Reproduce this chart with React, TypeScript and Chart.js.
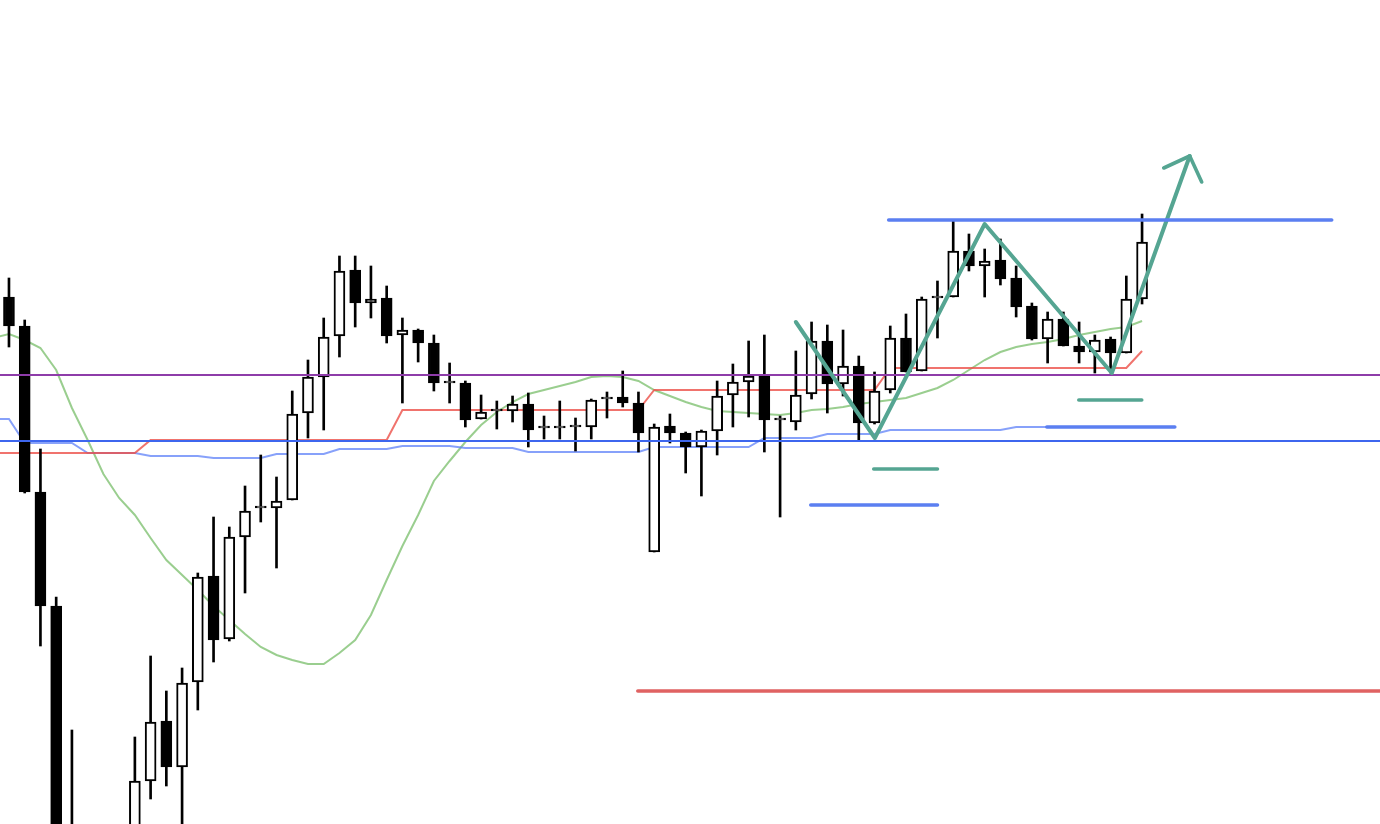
import React, { useEffect, useRef } from 'react';
import { Chart, registerables } from 'chart.js';

Chart.register(...registerables);

// Candles (index 0 is a hidden candle left of the visible area)
const opens = [715, 703, 674, 508, 394, 120, 95, 65, 120, 130, 219, 279, 233, 318, 424, 361, 463, 492, 492, 500, 587, 623, 664, 730, 697, 702, 665, 670, 657, 617, 617, 581, 589, 589, 596, 572, 572, 573, 573, 601, 603, 597, 448, 574, 567, 553, 569, 605, 618, 624, 580, 578, 606, 659, 616, 634, 577, 610, 662, 629, 702, 703, 749, 734, 740, 722, 694, 661, 681, 654, 648, 661, 647, 701];
const highs = [735, 722, 680, 551, 403, 270, 160, 150, 165, 263, 344, 309, 332, 427, 483, 473, 514, 545, 523, 609, 640, 682, 744, 744, 734, 714, 682, 671, 665, 637, 619, 605, 599, 604, 607, 584, 599, 582, 601, 608, 629, 608, 576, 586, 568, 570, 619, 636, 659, 665, 584, 649, 678, 675, 670, 644, 628, 674, 686, 703, 719, 779, 766, 751, 761, 734, 697, 688, 688, 678, 665, 663, 724, 786];
const lows = [695, 653, 507, 354, 100, 70, 40, 55, 100, 120, 201, 214, 170, 290, 338, 359, 407, 478, 432, 500, 562, 570, 643, 673, 682, 657, 597, 638, 609, 597, 573, 581, 571, 578, 553, 561, 561, 549, 561, 582, 593, 548, 448, 557, 527, 504, 545, 573, 583, 548, 483, 570, 601, 587, 604, 560, 576, 607, 628, 629, 662, 703, 729, 703, 715, 683, 660, 637, 654, 637, 627, 627, 647, 696];
const closes = [705, 674, 508, 394, 120, 95, 65, 120, 130, 219, 278, 233, 317, 423, 360, 463, 489, 494, 499, 586, 623, 663, 729, 697, 701, 664, 670, 657, 617, 619, 580, 588, 591, 596, 570, 574, 574, 575, 600, 603, 597, 567, 573, 567, 553, 569, 604, 618, 624, 580, 582, 605, 659, 616, 634, 577, 609, 662, 628, 701, 704, 749, 734, 739, 721, 693, 661, 681, 654, 648, 660, 647, 701, 758];

// Indicator lines
const redBaseLine = [547, 547, 547, 547, 547, 547, 547, 547, 547, 547, 560, 560, 560, 560, 560, 560, 560, 560, 560, 560, 560, 560, 560, 560, 560, 560, 590, 590, 590, 590, 590, 590, 590, 590, 590, 590, 590, 590, 590, 590, 590, 590, 610, 610, 610, 610, 610, 610, 610, 610, 610, 610, 610, 610, 610, 610, 610, 632, 632, 632, 632, 632, 632, 632, 632, 632, 632, 632, 632, 632, 632, 632, 632, 649];
const blueBaseLine = [581, 581, 557, 557, 557, 557, 547, 547, 547, 547, 544, 544, 544, 544, 542, 542, 542, 542, 546, 546, 546, 546, 551, 551, 551, 551, 554, 554, 554, 554, 552, 552, 552, 552, 548, 548, 548, 548, 548, 548, 548, 548, 553, 553, 553, 553, 553, 553, 553, 562, 562, 562, 562, 566, 566, 566, 566, 570, 570, 570, 570, 570, 570, 570, 570, 573, 573, 573, 573, 573, 573, 573, 573, 573];
const movingAverage = [662, 666, 660, 652, 630, 592, 560, 526, 502, 485, 462, 440, 425, 410, 394, 380, 366, 353, 345, 340, 336, 336, 347, 360, 385, 420, 454, 485, 519, 539, 558, 575, 588, 598, 606, 610, 614, 618, 623, 624, 623, 619, 610, 604, 598, 593, 589, 588, 587, 586, 585, 587, 590, 591, 593, 596, 598, 600, 602, 607, 612, 620, 630, 640, 648, 653, 656, 658, 661, 665, 668, 671, 673, 679];

// Horizontal levels
const purpleLevel = 625;
const blueLevel = 559;

// Drawn annotations (x in candle index, y in price units)
const blueSegStart = [56.9, 51.95, 66.95];
const blueSegEnd = [85.05, 60.0, 75.08];
const blueSegValue = [780, 495, 573];
const tealSegStart = [55.95, 68.98];
const tealSegEnd = [60.0, 72.98];
const tealSegValue = [531, 600];
const redSegStart = [40.96];
const redSegEnd = [88.12];
const redSegValue = [309];
const zigzagX = [51.0, 56.02, 63.0, 71.08, 76.03];
const zigzagY = [678, 562, 776, 627, 844];
const arrowX = [74.38, 76.03, 76.79];
const arrowY = [832, 844, 818];

const X_MIN = 0.43;
const X_MAX = 88.12;
const Y_MIN = 176;
const Y_MAX = 1000;

export default function App() {
  const ref = useRef<HTMLCanvasElement>(null);

  useEffect(() => {
    if (!ref.current) return;
    const idx = opens.map((_, i) => i);
    const bodyData = idx.map((i) => ({ x: i, y: [opens[i], closes[i]] }));
    const wickData = idx.map((i) => ({ x: i, y: [lows[i], highs[i]] }));
    const bodyFill = idx.map((i) => (closes[i] > opens[i] ? '#ffffff' : '#000000'));
    const series = (ys: number[]) => ys.map((y, i) => ({ x: i, y }));
    const pts = (xs: number[], ys: number[]) => xs.map((x, i) => ({ x, y: ys[i] }));
    const seg = (a: number, b: number, v: number) => [{ x: a, y: v }, { x: b, y: v }];

    const thick = (data: any[], color: string, w = 3.6) => ({
      type: 'line' as const,
      data,
      borderColor: color,
      borderWidth: w,
      pointRadius: 0,
      tension: 0,
      fill: false,
      borderCapStyle: 'round' as const,
      borderJoinStyle: 'round' as const,
      order: 0,
    });
    const thin = (data: any[], color: string, order: number, w = 2) => ({
      type: 'line' as const,
      data,
      borderColor: color,
      borderWidth: w,
      pointRadius: 0,
      tension: 0,
      fill: false,
      order,
    });

    const datasets: any[] = [];
    blueSegStart.forEach((s, i) => datasets.push(thick(seg(s, blueSegEnd[i], blueSegValue[i]), '#5b7ff1')));
    tealSegStart.forEach((s, i) => datasets.push(thick(seg(s, tealSegEnd[i], tealSegValue[i]), '#55a592')));
    redSegStart.forEach((s, i) => datasets.push(thick(seg(s, redSegEnd[i], redSegValue[i]), '#e06262')));
    datasets.push(thick(pts(zigzagX, zigzagY), '#55a592', 4));
    datasets.push(thick(pts(arrowX, arrowY), '#55a592', 3.6));

    datasets.push(thin(seg(X_MIN, X_MAX, purpleLevel), '#8e3ca9', 1));
    datasets.push(thin(seg(X_MIN, X_MAX, blueLevel), '#3d66ee', 1));

    datasets.push({
      type: 'bar',
      data: bodyData,
      backgroundColor: bodyFill,
      borderColor: '#000000',
      borderWidth: 2,
      borderSkipped: false,
      barThickness: 11,
      grouped: false,
      order: 2,
    });
    datasets.push({
      type: 'bar',
      data: wickData,
      backgroundColor: '#000000',
      borderWidth: 0,
      barThickness: 2,
      grouped: false,
      order: 3,
    });

    datasets.push(thin(series(redBaseLine), 'rgba(236,80,72,0.8)', 4));
    datasets.push(thin(series(blueBaseLine), 'rgba(95,130,248,0.75)', 5));
    datasets.push(thin(series(movingAverage), 'rgba(120,190,105,0.75)', 6));

    const chart = new Chart(ref.current, {
      type: 'line',
      data: { datasets },
      options: {
        responsive: false,
        animation: false,
        devicePixelRatio: 1,
        events: [],
        layout: { padding: 0 },
        plugins: { legend: { display: false }, tooltip: { enabled: false } },
        scales: {
          x: { type: 'linear', min: X_MIN, max: X_MAX, display: false, offset: false },
          y: { type: 'linear', min: Y_MIN, max: Y_MAX, display: false },
        },
      },
    });
    return () => chart.destroy();
  }, []);

  return (
    <div style={{ position: 'fixed', left: 0, top: 0, width: 1380, height: 824, background: '#ffffff' }}>
      <canvas ref={ref} width={1380} height={824} style={{ display: 'block' }} />
    </div>
  );
}
